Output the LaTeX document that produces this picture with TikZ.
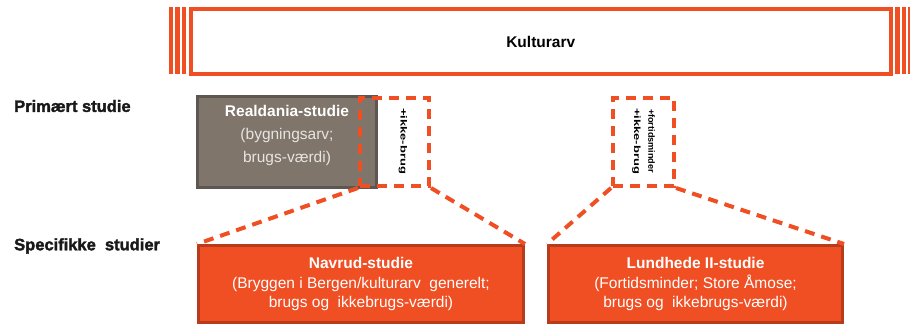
\documentclass[tikz,border=0pt]{standalone}
\usepackage{fontspec}
\setmainfont{Liberation Sans}
\newfontfamily\heavyfont[FakeBold=2]{Liberation Sans Bold}
\usepackage{graphicx}
\definecolor{org}{HTML}{F04E23}
\definecolor{orgd}{HTML}{B83C1C}
\definecolor{gryf}{HTML}{7F756B}
\definecolor{gryd}{HTML}{5E5650}
\definecolor{gtxt}{HTML}{E8E5E1}
\begin{document}
\begin{tikzpicture}[x=1pt,y=-1pt,
  kbox/.style={draw=org, line width=4pt, fill=white, inner sep=0pt,
    font=\fontsize{15.5}{19}\selectfont\bfseries},
  stripe/.style={fill=org},
  gbox/.style={draw=gryd, line width=3pt, fill=gryf, inner sep=0pt},
  obox/.style={draw=orgd, line width=3pt, fill=org, inner sep=0pt, text=white,
    align=center, font=\fontsize{15.5}{19.5}\selectfont},
  dbox/.style={draw=org, line width=4pt, dash pattern=on 10pt off 7pt, inner sep=0pt},
  dline/.style={draw=org, line width=4pt, dash pattern=on 10pt off 7pt},
  head/.style={anchor=west, inner sep=0pt, text=black!90, font=\fontsize{16.5}{18}\heavyfont},
  vtext/.style={rotate=-90, inner sep=0pt}
]
\useasboundingbox (0,0) rectangle (910,325);

% Kulturarv
\node[kbox, minimum width=700.5pt, minimum height=65pt] (kult) at (540.75,41.5) {Kulturarv};
\fill[stripe] (168.5,7.3) rectangle (173,74);
\fill[stripe] (175,7.3) rectangle (179.5,74);
\fill[stripe] (181.5,7.3) rectangle (186,74);
\fill[stripe] (895,7.3) rectangle (899.5,74);
\fill[stripe] (901.5,7.3) rectangle (906,74);
\fill[stripe] (908,7.3) rectangle (912,74);

% headings
\node[head] (prim) at (14,106) {Primært studie};
\node[head] (spec) at (14,246) {Specifikke\ \ studier};

% Realdania
\node[gbox, minimum width=179pt, minimum height=91pt] (real) at (287,142) {};
\node[align=center, inner sep=0pt, text=gtxt, font=\fontsize{15.5}{23}\selectfont] (realt) at (287,135)
  {\textcolor{white}{\bfseries Realdania-studie}\\(bygningsarv;\\brugs-værdi)};

% dashed boxes
\node[dbox, minimum width=69pt, minimum height=88pt] (d1) at (394.5,142) {};
\node[dbox, minimum width=61pt, minimum height=88pt] (d2) at (643.5,142) {};

% vertical texts
\node[vtext] (v1) at (403,141) {\resizebox{66pt}{6.5pt}{\bfseries +ikke-brug}};
\node[vtext] (v2) at (651.5,141) {\resizebox{64pt}{6.5pt}{\bfseries +fortidsminder}};
\node[vtext] (v3) at (636.5,141) {\resizebox{66pt}{6.5pt}{\bfseries +ikke-brug}};

% lower boxes
\node[obox, minimum width=325pt, minimum height=77pt] (nav) at (361,284)
  {{\bfseries Navrud-studie}\\(Bryggen i Bergen/kulturarv\ \ generelt;\\brugs og\ \ ikkebrugs-værdi)};
\node[obox, minimum width=294pt, minimum height=77pt] (lund) at (695.5,284)
  {{\bfseries Lundhede II-studie}\\(Fortidsminder; Store Åmose;\\brugs og\ \ ikkebrugs-værdi)};

% connectors
\draw[dline] (d1.south west) -- (nav.north west);
\draw[dline] (d1.south east) -- (nav.north east);
\draw[dline] (d2.south west) -- (lund.north west);
\draw[dline] (d2.south east) -- (lund.north east);
\end{tikzpicture}
\end{document}
